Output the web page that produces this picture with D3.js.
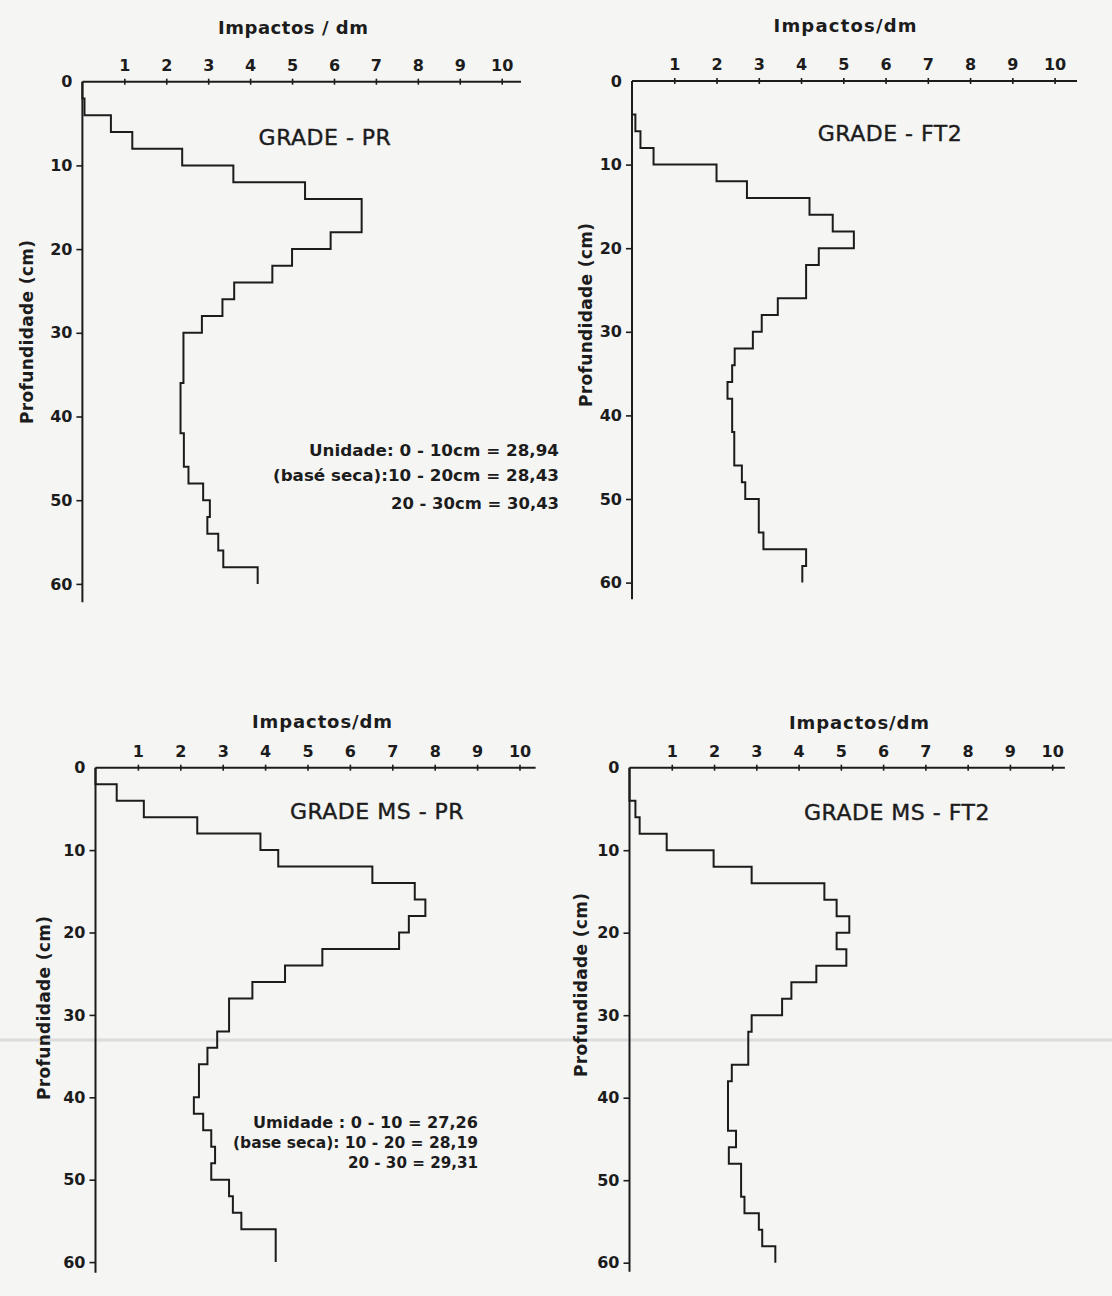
<!DOCTYPE html>
<html>
<head>
<meta charset="utf-8">
<script src="https://cdn.jsdelivr.net/npm/d3@7"></script>
<style>
  html, body { margin: 0; padding: 0; background: #f5f5f4; }
  svg { display: block; }
  text { font-family: "DejaVu Sans", "Liberation Sans", sans-serif; fill: #1c1c1c; }
</style>
</head>
<body>
<svg id="fig" width="1112" height="1296"></svg>
<script>
// Penetration-resistance profiles: impacts per dm in 2 cm depth layers (0-60 cm)
const layerTops = d3.range(0, 62, 2);           // layer boundaries 0, 2, ... 60 cm
const impactTicks = d3.range(1, 11);            // 1 .. 10 impactos/dm
const depthTicks = d3.range(0, 70, 10);         // 0 .. 60 cm

const gradePR = [0, 0.05, 0.68, 1.19, 2.38, 3.6, 5.31, 6.66, 6.66, 5.92,
                 5.0, 4.53, 3.62, 3.34, 2.85, 2.41, 2.41, 2.41, 2.34, 2.34,
                 2.34, 2.42, 2.42, 2.53, 2.88, 3.04, 2.98, 3.24, 3.36, 4.18];
const gradeFT2 = [0, 0, 0.08, 0.2, 0.51, 2.0, 2.72, 4.2, 4.75, 5.25,
                  4.42, 4.12, 4.12, 3.45, 3.07, 2.86, 2.43, 2.37, 2.26, 2.37,
                  2.37, 2.42, 2.42, 2.6, 2.68, 3.0, 3.0, 3.11, 4.12, 4.03];
const gradeMSPR = [0, 0.5, 1.14, 2.4, 3.89, 4.31, 6.53, 7.53, 7.78, 7.39,
                   7.16, 5.35, 4.47, 3.7, 3.15, 3.15, 2.87, 2.64, 2.44, 2.44,
                   2.32, 2.54, 2.73, 2.82, 2.73, 3.15, 3.24, 3.44, 4.25, 4.25];
const gradeMSFT2 = [0, 0, 0.14, 0.24, 0.88, 1.99, 2.89, 4.61, 4.9, 5.2,
                    4.9, 5.13, 4.42, 3.83, 3.61, 2.89, 2.81, 2.81, 2.42, 2.33,
                    2.33, 2.33, 2.52, 2.35, 2.64, 2.64, 2.72, 3.06, 3.14, 3.45];

const titles = ["GRADE - PR", "GRADE - FT2", "GRADE MS - PR", "GRADE MS - FT2"];
const xTitles = ["Impactos / dm", "Impactos/dm", "Impactos/dm", "Impactos/dm"];
const yTitle = "Profundidade (cm)";

const notesPR = ["Unidade: 0 - 10cm = 28,94",
                 "(basé seca):10 - 20cm = 28,43",
                 "20 - 30cm = 30,43"];
const notesMSPR = ["Umidade :  0 - 10 = 27,26",
                   "(base seca): 10 - 20 = 28,19",
                   "20 - 30 = 29,31"];

// Frame geometry of each panel (origin, pixels per unit, axis extents, text anchors)
const panels = [
  { values: gradePR, title: titles[0], xTitle: xTitles[0],
    ox: 82.4, oy: 81.7, unit: 41.93, pcm: 8.37, xEnd: 10.46, yEnd: 62.2,
    titleXY: [325, 137], xTitleXY: [293, 27], xTitleLen: 150,
    yTitleXY: [27, 332], notes: notesPR, noteRight: 559, noteY: [451, 476, 504],
    noteLen: [250, 286, 168] },
  { values: gradeFT2, title: titles[1], xTitle: xTitles[1],
    ox: 632, oy: 81, unit: 42.26, pcm: 8.36, xEnd: 10.53, yEnd: 62,
    titleXY: [890, 133], xTitleXY: [845, 25], xTitleLen: 143,
    yTitleXY: [586, 315] },
  { values: gradeMSPR, title: titles[2], xTitle: xTitles[2],
    ox: 95.5, oy: 767.7, unit: 42.4, pcm: 8.24, xEnd: 10.38, yEnd: 61.3,
    titleXY: [377, 811], xTitleXY: [322, 721], xTitleLen: 140,
    yTitleXY: [44, 1008], notes: notesMSPR, noteRight: 478, noteY: [1123, 1143, 1163],
    noteLen: [225, 245, 130] },
  { values: gradeMSFT2, title: titles[3], xTitle: xTitles[3],
    ox: 629.5, oy: 767.7, unit: 42.27, pcm: 8.25, xEnd: 10.3, yEnd: 61.1,
    titleXY: [897, 812], xTitleXY: [859, 722], xTitleLen: 140,
    yTitleXY: [581, 985] }
];

const svg = d3.select("#fig");
const ink = "#1c1c1c";

// faint scanner streak across the lower half of the sheet
svg.append("line")
  .attr("x1", 0).attr("x2", 1112).attr("y1", 1040).attr("y2", 1040)
  .attr("stroke", "#dcdcdc").attr("stroke-width", 3);

panels.forEach(p => {
  const x = d3.scaleLinear().domain([0, 10]).range([p.ox, p.ox + 10 * p.unit]);
  const y = d3.scaleLinear().domain([0, 60]).range([p.oy, p.oy + 60 * p.pcm]);
  const g = svg.append("g");

  // top axis (impacts)
  g.append("line")
    .attr("x1", x(0)).attr("x2", x(p.xEnd)).attr("y1", y(0)).attr("y2", y(0))
    .attr("stroke", ink).attr("stroke-width", 2);
  const xAxis = d3.axisTop(x).tickValues(impactTicks).tickSize(0).tickPadding(11);
  const gx = g.append("g").attr("transform", `translate(0,${y(0)})`).call(xAxis);
  gx.select(".domain").remove();
  gx.selectAll(".tick text")
    .attr("font-size", 16).attr("font-weight", "bold").attr("fill", ink)
    .style("font-family", "'DejaVu Sans', sans-serif");
  gx.selectAll(".tick").append("line")
    .attr("y1", -3).attr("y2", 3).attr("stroke", ink).attr("stroke-width", 1.6);

  // left axis (depth)
  g.append("line")
    .attr("x1", x(0)).attr("x2", x(0)).attr("y1", y(0)).attr("y2", y(p.yEnd))
    .attr("stroke", ink).attr("stroke-width", 2);
  const yAxis = d3.axisLeft(y).tickValues(depthTicks).tickSize(0).tickPadding(10)
    .tickFormat(d3.format("d"));
  const gy = g.append("g").attr("transform", `translate(${x(0)},0)`).call(yAxis);
  gy.select(".domain").remove();
  gy.selectAll(".tick text")
    .attr("font-size", 16).attr("font-weight", "bold").attr("fill", ink)
    .style("font-family", "'DejaVu Sans', sans-serif");
  gy.selectAll(".tick").filter(d => d > 0).append("line")
    .attr("x1", -6).attr("x2", 0).attr("stroke", ink).attr("stroke-width", 1.6);

  // stepped profile: one vertical run per 2 cm layer
  const pts = p.values.flatMap((v, i) => [[v, layerTops[i]], [v, layerTops[i + 1]]]);
  const line = d3.line().x(d => x(d[0])).y(d => y(d[1]));
  g.append("path")
    .attr("d", line(pts))
    .attr("fill", "none").attr("stroke", ink).attr("stroke-width", 2)
    .attr("stroke-linejoin", "miter");

  // panel title
  g.append("text")
    .attr("x", p.titleXY[0]).attr("y", p.titleXY[1])
    .attr("text-anchor", "middle").attr("dominant-baseline", "central")
    .attr("font-size", 22).attr("letter-spacing", 0.5)
    .attr("stroke", ink).attr("stroke-width", 0.4)
    .text(p.title);

  // axis titles
  g.append("text")
    .attr("x", p.xTitleXY[0]).attr("y", p.xTitleXY[1])
    .attr("text-anchor", "middle").attr("dominant-baseline", "central")
    .attr("font-size", 18).attr("font-weight", "bold")
    .attr("textLength", p.xTitleLen).attr("lengthAdjust", "spacing")
    .text(p.xTitle);

  g.append("text")
    .attr("transform", `translate(${p.yTitleXY[0]},${p.yTitleXY[1]}) rotate(-90)`)
    .attr("text-anchor", "middle").attr("dominant-baseline", "central")
    .attr("font-size", 17).attr("font-weight", "bold")
    .attr("textLength", 184).attr("lengthAdjust", "spacing")
    .text(yTitle);

  // moisture notes
  if (p.notes) {
    p.notes.forEach((t, i) => {
      g.append("text")
        .attr("x", p.noteRight - p.noteLen[i]).attr("y", p.noteY[i])
        .attr("dominant-baseline", "central")
        .attr("font-size", 15).attr("font-weight", "bold")
        .attr("textLength", p.noteLen[i]).attr("lengthAdjust", "spacingAndGlyphs")
        .text(t);
    });
  }
});
</script>
</body>
</html>
